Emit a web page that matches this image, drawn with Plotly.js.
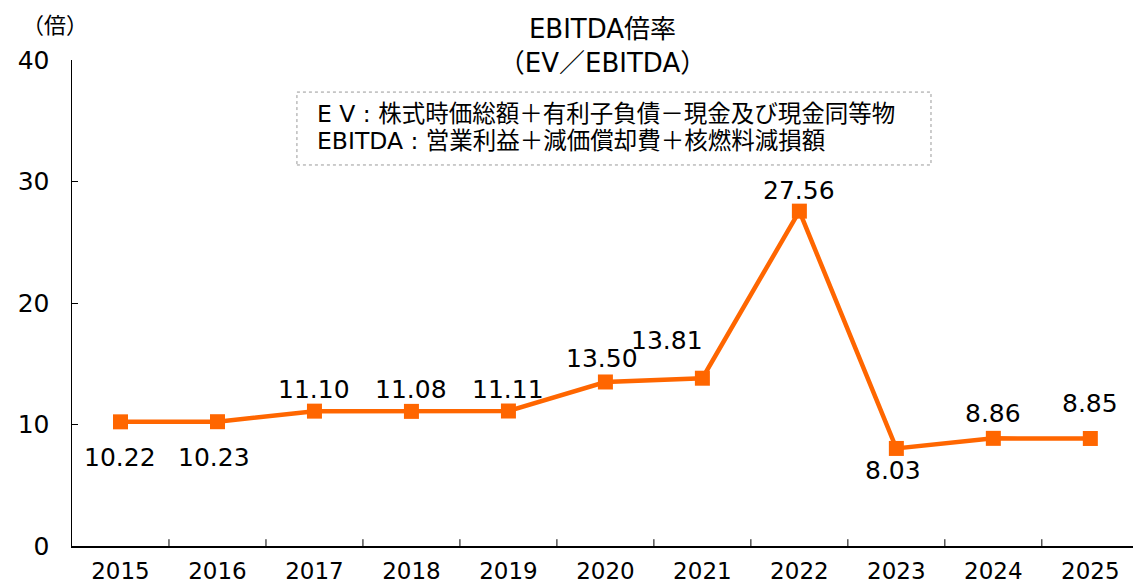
<!DOCTYPE html>
<html><head><meta charset="utf-8">
<script src="https://cdn.plot.ly/plotly-3.0.1.min.js"></script>
<style>html,body{margin:0;padding:0;background:#fff}</style>
</head><body>
<div id="chart" style="width:1133px;height:582px"></div>
<script>
const years = ["2015","2016","2017","2018","2019","2020","2021","2022","2023","2024","2025"];
const ratios = [10.22, 10.23, 11.10, 11.08, 11.11, 13.50, 13.81, 27.56, 8.03, 8.86, 8.85];
const labelText = ["10.22","10.23","11.10","11.08","11.11","13.50","13.81","27.56","8.03","8.86","8.85"];
const yTicks = [0, 10, 20, 30, 40];
const titleText = "EBITDA倍率<br>（EV／EBITDA）";
const noteLines = ["E V : 株式時価総額＋有利子負債－現金及び現金同等物", "EBITDA : 営業利益＋減価償却費＋核燃料減損額"];
const unitText = "（倍）";

// label offsets in pixels (style)
const labelShift = [[0,-36],[-3,-36],[0,22],[0,22],[0,22],[-3,23],[-35,38],[0,21],[-3,-22],[0,25],[0,35]];

const FONT = "'DejaVu Sans', 'Noto Sans CJK JP', sans-serif";
const JFONT = "'Noto Sans CJK JP', 'DejaVu Sans', sans-serif";
const orange = "#FF6600";

const annotations = ratios.map((v,i)=>({
  x: i, y: v, xref:'x', yref:'y', text: labelText[i], showarrow:false,
  xshift: labelShift[i][0], yshift: labelShift[i][1],
  font:{family:FONT, size:25, color:'#000'}
}));
// note lines
const noteY = [0.889, 0.833];
noteLines.forEach((t,k)=>annotations.push({
  xref:'paper', yref:'paper', x:0.229, y:noteY[k], xanchor:'left', yanchor:'middle',
  text: t, showarrow:false, align:'left',
  font:{family:FONT, size:23.5, color:'#000'}
}));
annotations.push({
  xref:'paper', yref:'paper', x:-0.016, y:1.077, xanchor:'center', yanchor:'middle',
  text: unitText, showarrow:false, font:{family:JFONT, size:22, color:'#000'}
});

const trace = {
  x: years, y: ratios, type:'scatter', mode:'lines+markers',
  line:{color:orange, width:4.5},
  marker:{symbol:'square', size:15, color:orange},
  cliponaxis:false, hoverinfo:'skip'
};

const layout = {
  width:1133, height:582,
  margin:{l:72, r:0, t:60, b:36},
  paper_bgcolor:'#fff', plot_bgcolor:'#fff',
  showlegend:false,
  title:{text:titleText, x:0.5, xref:'paper', y:0.934, yanchor:'middle', font:{family:FONT, size:26, color:'#000'}},
  xaxis:{
    type:'category', range:[-0.5, 10.44],
    showline:true, linecolor:'#000', linewidth:1.5,
    showgrid:false, zeroline:false,
    ticks:'', tickfont:{family:FONT, size:23, color:'#000'},
    ticklabelstandoff:4, fixedrange:true
  },
  yaxis:{
    range:[0,40], tickvals:yTicks, ticktext:yTicks.map(String),
    showline:true, linecolor:'#000', linewidth:1.5,
    showgrid:false, zeroline:false,
    ticks:'inside', ticklen:6, tickcolor:'#000', tickwidth:1,
    tickfont:{family:FONT, size:25, color:'#000'},
    ticklabelstandoff:16, fixedrange:true
  },
  shapes: years.slice(0,-1).map((y,i)=>({
    type:'line', xref:'x', yref:'paper', x0:i+0.5, x1:i+0.5, y0:0, y1:0.014,
    line:{color:'#000', width:1}
  })),
  annotations: annotations
};
layout.shapes.push({type:'rect', xref:'paper', yref:'paper', x0:0.212, x1:0.8096, y0:0.784, y1:0.934,
  line:{color:'#999', width:1, dash:'dot'}, fillcolor:'rgba(0,0,0,0)', layer:'above'});

Plotly.newPlot('chart', [trace], layout, {displayModeBar:false, staticPlot:true});
</script>
</body></html>
